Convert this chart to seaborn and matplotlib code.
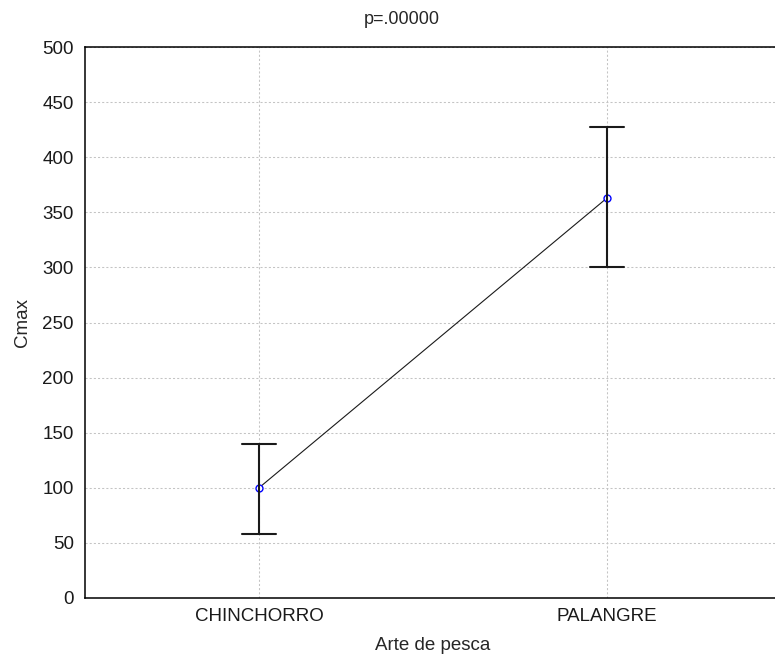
import pandas as pd
import matplotlib
matplotlib.use("Agg")
import matplotlib.pyplot as plt
import seaborn as sns

categorias = ["CHINCHORRO", "PALANGRE"]
media = [100, 363]
inferior = [58, 300]
superior = [140, 427]
titulo = "p=.00000"

# low / mean / high per category, median gives the point, 100% interval gives the bar
filas = []
for c, lo, m, hi in zip(categorias, inferior, media, superior):
    for v in (lo, m, hi):
        filas.append({"Arte de pesca": c, "Cmax": v})
df = pd.DataFrame(filas)

sns.set_theme(style="white")
plt.rcParams["font.family"] = ["Liberation Sans", "DejaVu Sans"]

fig = plt.figure(figsize=(7.75, 6.54), dpi=100)
ax = fig.add_axes([85 / 775, 56 / 654, 696 / 775, 551 / 654])

sns.pointplot(data=df, x="Arte de pesca", y="Cmax", estimator="median",
              errorbar=("pi", 100), capsize=0.1, color="#1a1a1a",
              linewidth=0.8, markersize=5, markeredgewidth=1.0,
              markerfacecolor="white", markeredgecolor="blue",
              err_kws={"linewidth": 1.5, "color": "#1a1a1a"}, ax=ax)

ax.set_xlim(-0.5, 1.5)
ax.set_ylim(0, 500)
ax.set_yticks(range(0, 501, 50))
ax.grid(True, color="#c4c4c4", linestyle=(0, (2, 2)), linewidth=0.75)
ax.set_axisbelow(True)
for s in ax.spines.values():
    s.set_color("black")
    s.set_linewidth(1.1)
ax.spines["right"].set_visible(False)
ax.tick_params(axis="y", length=0, labelsize=13.5, pad=8, colors="#1a1a1a")
ax.tick_params(axis="x", length=4, direction="in", labelsize=13.5, pad=7, colors="#1a1a1a")
ax.set_xlabel("Arte de pesca", fontsize=13.5, labelpad=9)
ax.set_ylabel("Cmax", fontsize=13.5, labelpad=8)
fig.text(402 / 775, 1 - 19 / 654, titulo, ha="center", va="center", fontsize=13)

fig.savefig("out.png", dpi=100)
